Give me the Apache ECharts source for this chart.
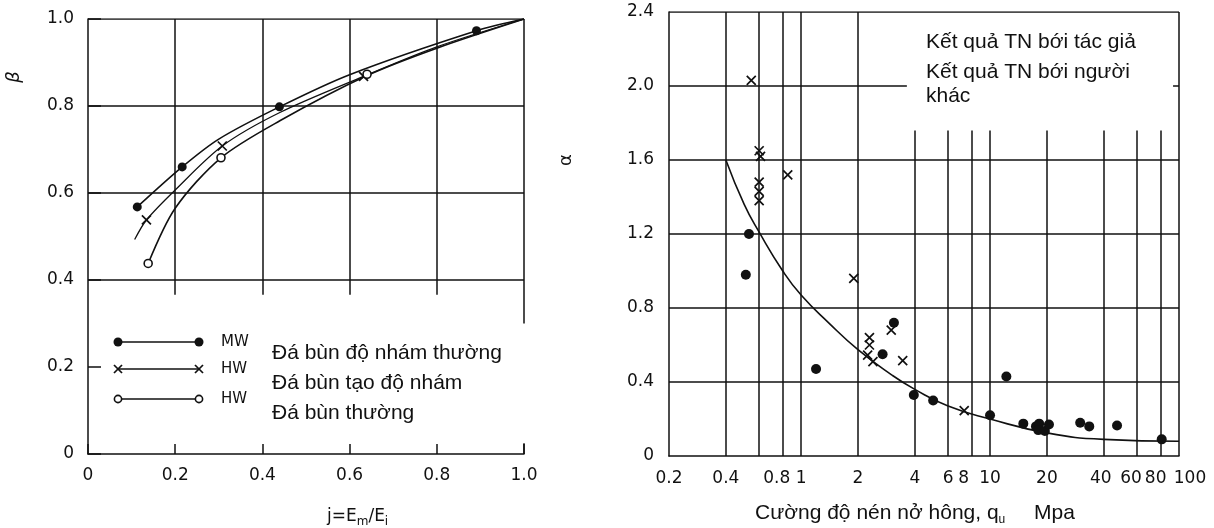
<!DOCTYPE html>
<html><head><meta charset="utf-8">
<script src="https://cdn.jsdelivr.net/npm/echarts@6/dist/echarts.min.js"></script>
<style>html,body{margin:0;padding:0;background:#fff}#c{width:1214px;height:528px}</style>
</head><body><div id="c"></div>
<script>
// ---------- Left chart: beta vs j = Em/Ei ----------
const leftXGrid = [0.2, 0.4, 0.6, 0.8];
const leftYGrid = [0.4, 0.6, 0.8];
const mwCurve = [[0.113,0.568],[0.216,0.660],[0.30,0.724],[0.439,0.798],[0.6,0.872],[0.891,0.973],[1.0,1.0]];
const mwPoints = [[0.113,0.568],[0.216,0.660],[0.439,0.798],[0.891,0.973]];
const hwCrossCurve = [[0.107,0.493],[0.134,0.538],[0.2,0.607],[0.308,0.708],[0.44,0.785],[0.632,0.868],[0.8,0.936],[1.0,1.0]];
const hwCrossPoints = [[0.134,0.538],[0.308,0.708],[0.632,0.868]];
const hwOpenCurve = [[0.138,0.438],[0.2,0.565],[0.305,0.681],[0.44,0.766],[0.640,0.870],[0.8,0.933],[1.0,1.0]];
const hwOpenPoints = [[0.138,0.438],[0.305,0.681],[0.640,0.873]];
const legendCodes = ['MW', 'HW', 'HW'];
const legendNamesLeft = ['Đá bùn độ nhám thường', 'Đá bùn tạo độ nhám', 'Đá bùn thường'];

// ---------- Right chart: alpha vs compressive strength qu ----------
const rightXGrid = [0.4, 0.6, 0.8, 1, 2, 4, 6, 8, 10, 20, 40, 60, 80];
const rightXLabels = [0.2, 0.4, 0.8, 1, 2, 4, 6, 8, 10, 20, 40, 60, 80, 100];
const rightYGrid = [0.4, 0.8, 1.2, 1.6, 2.0];
const alphaCurve = [[0.4,1.6],[0.5,1.36],[0.6,1.21],[0.8,1.0],[1.0,0.87],[1.4,0.72],[2,0.575],[3,0.44],[4,0.36],[6,0.27],[10,0.2],[20,0.125],[40,0.09],[100,0.08]];
const authorPoints = [[0.51,0.98],[0.53,1.2],[1.2,0.47],[2.7,0.55],[3.1,0.72],[3.95,0.33],[5.0,0.30],[10,0.22],[12.2,0.43],[15,0.175],[17.5,0.16],[18.2,0.175],[18.0,0.14],[19.5,0.135],[20.5,0.17],[30,0.18],[33.5,0.16],[47,0.165],[81,0.09]];
const otherPoints = [[0.545,2.03],[0.6,1.65],[0.61,1.62],[0.6,1.48],[0.6,1.43],[0.6,1.38],[0.85,1.52],[1.9,0.96],[2.3,0.64],[2.3,0.60],[2.25,0.545],[2.4,0.51],[3.0,0.68],[3.45,0.515],[7.3,0.245]];
const legendNamesRight = ['Kết quả TN bới tác giả', 'Kết quả TN bới người', 'khác'];

const ink = '#111';
const crossPath = 'path://M0,0L10,10M10,0L0,10';
const tickFont = { fontFamily: 'DejaVu Sans', fontSize: 17, color: ink };
const fmt1 = v => (v === 0 ? '0' : v.toFixed(1));

// small horizontal nudges of some log-axis labels (as printed in the source figure)
const labelNudge = { '0.8': -6, '8': -8, '40': -3, '60': -6, '80': -5, '100': 11 };
const richLabels = {};
Object.keys(labelNudge).forEach((k, i) => {
  const d = labelNudge[k];
  richLabels['n' + i] = { fontFamily: 'DejaVu Sans', fontSize: 17, color: ink, padding: d < 0 ? [0, -2 * d, 0, 0] : [0, 0, 0, 2 * d] };
});
const logLabelFmt = v => {
  const s = String(+(+v).toPrecision(6));
  const idx = Object.keys(labelNudge).indexOf(s);
  return idx >= 0 ? '{n' + idx + '|' + s + '}' : s;
};

// grid line segments (left)
const leftLines = [];
leftXGrid.forEach(v => leftLines.push({ coords: [[v, 0.366], [v, 1]] }));
leftYGrid.forEach(v => leftLines.push({ coords: [[0, v], [1, v]] }));
leftLines.push({ coords: [[0, 1], [1, 1]] });
leftLines.push({ coords: [[1, 1], [1, 0.30]] });
leftLines.push({ coords: [[1, 0.025], [1, 0]] });

// grid line segments (right)
const rightLines = [];
rightXGrid.forEach(v => rightLines.push({ coords: [[v, 0], [v, v >= 4 ? 1.76 : 2.4]] }));
rightYGrid.forEach(v => rightLines.push({ coords: [[0.2, v], [v === 2.0 ? 3.63 : 100, v]] }));
rightLines.push({ coords: [[93, 2.0], [100, 2.0]] });
rightLines.push({ coords: [[0.2, 2.4], [100, 2.4]] });
rightLines.push({ coords: [[100, 0], [100, 2.4]] });

const gridLineStyle = { color: ink, width: 1.5, opacity: 1, curveness: 0 };
const curveStyle = { color: ink, width: 1.6 };

// graphic legend (left)
const legendRowsY = [342, 369, 399];
const gEls = [];
legendRowsY.forEach((y, i) => {
  gEls.push({ type: 'line', shape: { x1: 118, y1: y, x2: 199, y2: y }, style: { stroke: ink, lineWidth: 1.5 } });
  [118, 199].forEach(cx => {
    if (i === 0) gEls.push({ type: 'circle', shape: { cx: cx, cy: y, r: 4.5 }, style: { fill: ink } });
    else if (i === 1) {
      gEls.push({ type: 'line', shape: { x1: cx - 4, y1: y - 4, x2: cx + 4, y2: y + 4 }, style: { stroke: ink, lineWidth: 1.7 } });
      gEls.push({ type: 'line', shape: { x1: cx - 4, y1: y + 4, x2: cx + 4, y2: y - 4 }, style: { stroke: ink, lineWidth: 1.7 } });
    } else gEls.push({ type: 'circle', shape: { cx: cx, cy: y, r: 3.6 }, style: { fill: '#fff', stroke: ink, lineWidth: 1.6 } });
  });
  gEls.push({ type: 'text', x: 221, y: y, style: { text: legendCodes[i], fontFamily: 'DejaVu Sans', fontSize: 15, fill: ink, verticalAlign: 'middle' } });
});
legendNamesLeft.forEach((t, i) => {
  gEls.push({ type: 'text', x: 272, y: 353 + i * 30, style: { text: t, fontFamily: 'Liberation Sans', fontSize: 21, fill: '#111', verticalAlign: 'middle' } });
});
[42, 72, 96].forEach((y, i) => {
  gEls.push({ type: 'text', x: 926, y: y, style: { text: legendNamesRight[i], fontFamily: 'Liberation Sans', fontSize: 21, fill: '#111', verticalAlign: 'middle' } });
});
// axis names
gEls.push({ type: 'text', x: 14, y: 77, rotation: Math.PI / 2, style: { text: 'β', fontFamily: 'DejaVu Sans', fontStyle: 'italic', fontSize: 18, fill: ink, align: 'center', verticalAlign: 'middle' } });
gEls.push({ type: 'text', x: 566, y: 160, rotation: Math.PI / 2, style: { text: 'α', fontFamily: 'DejaVu Sans', fontSize: 18, fill: ink, align: 'center', verticalAlign: 'middle' } });
gEls.push({ type: 'text', x: 327, y: 517, style: {
  text: '{a|j=E}{s|m}{a|/E}{s|i}', fill: ink, verticalAlign: 'middle',
  rich: { a: { fontFamily: 'DejaVu Sans', fontSize: 17, lineHeight: 22, fill: ink }, s: { fontFamily: 'DejaVu Sans', fontSize: 12, lineHeight: 14, verticalAlign: 'bottom', fill: ink } } } });
gEls.push({ type: 'text', x: 755, y: 513, style: {
  text: '{a|Cường độ nén nở hông, q}{s|u}', fill: '#111', verticalAlign: 'middle',
  rich: { a: { fontFamily: 'Liberation Sans', fontSize: 21, lineHeight: 26, fill: '#111' }, s: { fontFamily: 'Liberation Sans', fontSize: 12, lineHeight: 14, verticalAlign: 'bottom', fill: '#111' } } } });
gEls.push({ type: 'text', x: 1034, y: 513, style: { text: 'Mpa', fontFamily: 'Liberation Sans', fontSize: 21, fill: '#111', verticalAlign: 'middle' } });

const option = {
  animation: false,
  backgroundColor: '#fff',
  grid: [
    { left: 88, top: 19, width: 436, height: 435 },
    { left: 669, top: 12, width: 510, height: 444 }
  ],
  xAxis: [
    { gridIndex: 0, type: 'value', min: 0, max: 1, interval: 0.2,
      axisLine: { onZero: false, lineStyle: { color: ink, width: 1.5 } },
      axisTick: { inside: true, length: 10, lineStyle: { color: ink, width: 1.5 } },
      splitLine: { show: false },
      axisLabel: Object.assign({ margin: 13, formatter: fmt1 }, tickFont) },
    { gridIndex: 1, type: 'log', logBase: 10, min: 0.2, max: 100,
      axisLine: { onZero: false, lineStyle: { color: ink, width: 1.5 } },
      axisTick: { show: false }, splitLine: { show: false }, minorTick: { show: false },
      axisLabel: Object.assign({ margin: 14, customValues: rightXLabels, formatter: logLabelFmt, rich: richLabels }, tickFont) }
  ],
  yAxis: [
    { gridIndex: 0, type: 'value', min: 0, max: 1, interval: 0.2,
      axisLine: { show: true, onZero: false, lineStyle: { color: ink, width: 1.5 } },
      axisTick: { show: true, inside: true, length: 13, lineStyle: { color: ink, width: 1.5 } },
      splitLine: { show: false },
      axisLabel: Object.assign({ margin: 14, formatter: fmt1 }, tickFont) },
    { gridIndex: 1, type: 'value', min: 0, max: 2.4, interval: 0.4,
      axisLine: { show: true, onZero: false, lineStyle: { color: ink, width: 1.5 } },
      axisTick: { show: false }, splitLine: { show: false },
      axisLabel: Object.assign({ margin: 15, formatter: fmt1 }, tickFont) }
  ],
  graphic: { elements: gEls },
  series: [
    { type: 'lines', coordinateSystem: 'cartesian2d', xAxisIndex: 0, yAxisIndex: 0, data: leftLines, lineStyle: gridLineStyle, silent: true, z: 1 },
    { type: 'line', xAxisIndex: 0, yAxisIndex: 0, data: mwCurve, smooth: 0.3, symbol: 'none', lineStyle: curveStyle, z: 2 },
    { type: 'line', xAxisIndex: 0, yAxisIndex: 0, data: hwCrossCurve, smooth: 0.3, symbol: 'none', lineStyle: { color: ink, width: 1.3 }, z: 2 },
    { type: 'line', xAxisIndex: 0, yAxisIndex: 0, data: hwOpenCurve, smooth: 0.3, symbol: 'none', lineStyle: curveStyle, z: 2 },
    { type: 'scatter', xAxisIndex: 0, yAxisIndex: 0, data: mwPoints, symbol: 'circle', symbolSize: 9, itemStyle: { color: ink, opacity: 1 }, z: 3 },
    { type: 'scatter', xAxisIndex: 0, yAxisIndex: 0, data: hwCrossPoints, symbol: crossPath, symbolSize: 9, itemStyle: { color: 'rgba(0,0,0,0)', borderColor: ink, borderWidth: 1.7, opacity: 1 }, z: 3 },
    { type: 'scatter', xAxisIndex: 0, yAxisIndex: 0, data: hwOpenPoints, symbol: 'circle', symbolSize: 8, itemStyle: { color: '#fff', borderColor: ink, borderWidth: 1.6, opacity: 1 }, z: 3 },

    { type: 'lines', coordinateSystem: 'cartesian2d', xAxisIndex: 1, yAxisIndex: 1, data: rightLines, lineStyle: gridLineStyle, silent: true, z: 1 },
    { type: 'line', xAxisIndex: 1, yAxisIndex: 1, data: alphaCurve, smooth: 0.5, symbol: 'none', lineStyle: curveStyle, z: 2 },
    { type: 'scatter', xAxisIndex: 1, yAxisIndex: 1, data: authorPoints, symbol: 'circle', symbolSize: 10, itemStyle: { color: ink, opacity: 1 }, z: 3 },
    { type: 'scatter', xAxisIndex: 1, yAxisIndex: 1, data: otherPoints, symbol: crossPath, symbolSize: 9, itemStyle: { color: 'rgba(0,0,0,0)', borderColor: ink, borderWidth: 1.7, opacity: 1 }, z: 3 }
  ]
};
const chart = echarts.init(document.getElementById('c'));
chart.setOption(option);
</script></body></html>
